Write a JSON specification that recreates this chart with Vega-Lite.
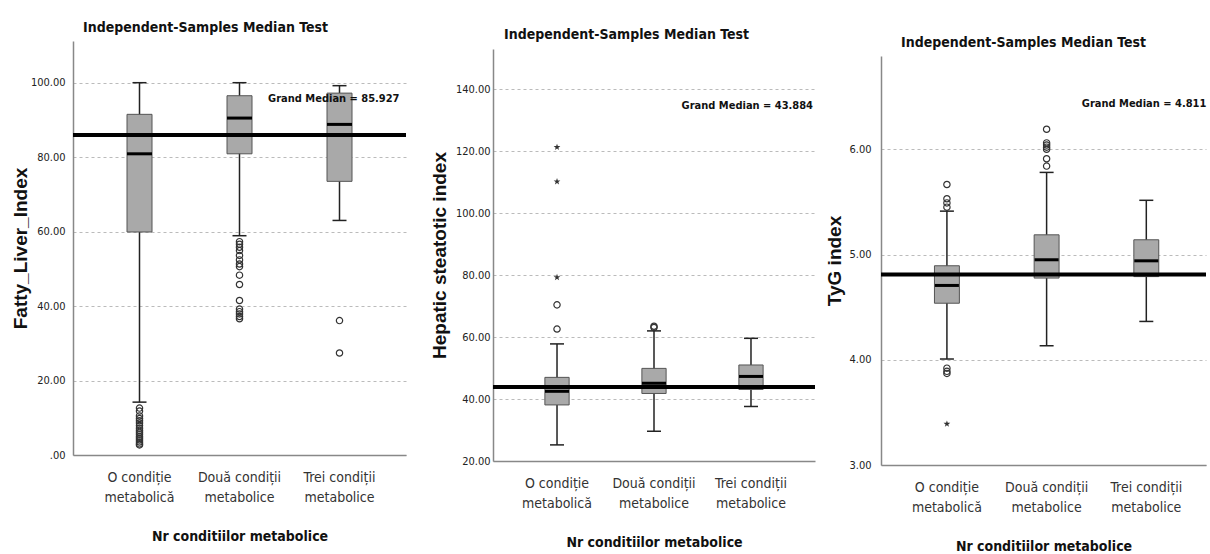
{
  "$schema": "https://vega.github.io/schema/vega-lite/v6.json",
  "padding": {"left": 11, "top": 18, "right": 0, "bottom": 0},
  "background": "#ffffff",
  "datasets": {
    "fli_box": [
      {"group": "O condiție metabolică", "lo": 14.2, "q1": 59.9, "med": 80.9, "q3": 91.5, "hi": 100},
      {"group": "Două condiții metabolice", "lo": 58.9, "q1": 80.9, "med": 90.5, "q3": 96.5, "hi": 100},
      {"group": "Trei condiții metabolice", "lo": 63, "q1": 73.5, "med": 88.8, "q3": 97.2, "hi": 99.2}
    ],
    "fli_out": [
      {"group": "O condiție metabolică", "value": 12.6, "kind": "outlier"},
      {"group": "O condiție metabolică", "value": 11.8, "kind": "outlier"},
      {"group": "O condiție metabolică", "value": 10.5, "kind": "outlier"},
      {"group": "O condiție metabolică", "value": 9.8, "kind": "outlier"},
      {"group": "O condiție metabolică", "value": 9.2, "kind": "outlier"},
      {"group": "O condiție metabolică", "value": 8.6, "kind": "outlier"},
      {"group": "O condiție metabolică", "value": 7.9, "kind": "outlier"},
      {"group": "O condiție metabolică", "value": 7.2, "kind": "outlier"},
      {"group": "O condiție metabolică", "value": 6.6, "kind": "outlier"},
      {"group": "O condiție metabolică", "value": 6.1, "kind": "outlier"},
      {"group": "O condiție metabolică", "value": 5.6, "kind": "outlier"},
      {"group": "O condiție metabolică", "value": 5.0, "kind": "outlier"},
      {"group": "O condiție metabolică", "value": 4.5, "kind": "outlier"},
      {"group": "O condiție metabolică", "value": 4.0, "kind": "outlier"},
      {"group": "O condiție metabolică", "value": 3.5, "kind": "outlier"},
      {"group": "O condiție metabolică", "value": 3.0, "kind": "outlier"},
      {"group": "O condiție metabolică", "value": 2.7, "kind": "outlier"},
      {"group": "Două condiții metabolice", "value": 57.3, "kind": "outlier"},
      {"group": "Două condiții metabolice", "value": 56.6, "kind": "outlier"},
      {"group": "Două condiții metabolice", "value": 55.8, "kind": "outlier"},
      {"group": "Două condiții metabolice", "value": 54.9, "kind": "outlier"},
      {"group": "Două condiții metabolice", "value": 53.6, "kind": "outlier"},
      {"group": "Două condiții metabolice", "value": 52.4, "kind": "outlier"},
      {"group": "Două condiții metabolice", "value": 51.3, "kind": "outlier"},
      {"group": "Două condiții metabolice", "value": 50.6, "kind": "outlier"},
      {"group": "Două condiții metabolice", "value": 48.3, "kind": "outlier"},
      {"group": "Două condiții metabolice", "value": 45.8, "kind": "outlier"},
      {"group": "Două condiții metabolice", "value": 41.5, "kind": "outlier"},
      {"group": "Două condiții metabolice", "value": 39.2, "kind": "outlier"},
      {"group": "Două condiții metabolice", "value": 38.5, "kind": "outlier"},
      {"group": "Două condiții metabolice", "value": 37.9, "kind": "outlier"},
      {"group": "Două condiții metabolice", "value": 37.2, "kind": "outlier"},
      {"group": "Două condiții metabolice", "value": 36.6, "kind": "outlier"},
      {"group": "Trei condiții metabolice", "value": 36.1, "kind": "outlier"},
      {"group": "Trei condiții metabolice", "value": 27.4, "kind": "outlier"}
    ],
    "fli_gm": [{"value": 85.927, "label": "Grand Median = 85.927"}],
    "hsi_box": [
      {"group": "O condiție metabolică", "lo": 25.2, "q1": 38.1, "med": 42.5, "q3": 47.0, "hi": 57.8},
      {"group": "Două condiții metabolice", "lo": 29.6, "q1": 41.8, "med": 45.1, "q3": 49.9, "hi": 62.0},
      {"group": "Trei condiții metabolice", "lo": 37.6, "q1": 43.1, "med": 47.3, "q3": 51.0, "hi": 59.6}
    ],
    "hsi_out": [
      {"group": "O condiție metabolică", "value": 62.6, "kind": "outlier"},
      {"group": "O condiție metabolică", "value": 70.4, "kind": "outlier"},
      {"group": "O condiție metabolică", "value": 79.3, "kind": "extreme"},
      {"group": "O condiție metabolică", "value": 110.2, "kind": "extreme"},
      {"group": "O condiție metabolică", "value": 121.3, "kind": "extreme"},
      {"group": "Două condiții metabolice", "value": 63.1, "kind": "outlier"},
      {"group": "Două condiții metabolice", "value": 63.5, "kind": "outlier"}
    ],
    "hsi_gm": [{"value": 43.884, "label": "Grand Median = 43.884"}],
    "tyg_box": [
      {"group": "O condiție metabolică", "lo": 4.007, "q1": 4.537, "med": 4.706, "q3": 4.893, "hi": 5.412},
      {"group": "Două condiții metabolice", "lo": 4.133, "q1": 4.776, "med": 4.95, "q3": 5.187, "hi": 5.78},
      {"group": "Trei condiții metabolice", "lo": 4.364, "q1": 4.79, "med": 4.94, "q3": 5.14, "hi": 5.515}
    ],
    "tyg_out": [
      {"group": "O condiție metabolică", "value": 5.665, "kind": "outlier"},
      {"group": "O condiție metabolică", "value": 5.53, "kind": "outlier"},
      {"group": "O condiție metabolică", "value": 5.49, "kind": "outlier"},
      {"group": "O condiție metabolică", "value": 5.45, "kind": "outlier"},
      {"group": "O condiție metabolică", "value": 3.92, "kind": "outlier"},
      {"group": "O condiție metabolică", "value": 3.89, "kind": "outlier"},
      {"group": "O condiție metabolică", "value": 3.87, "kind": "outlier"},
      {"group": "O condiție metabolică", "value": 3.39, "kind": "extreme"},
      {"group": "Două condiții metabolice", "value": 6.19, "kind": "outlier"},
      {"group": "Două condiții metabolice", "value": 6.06, "kind": "outlier"},
      {"group": "Două condiții metabolice", "value": 6.04, "kind": "outlier"},
      {"group": "Două condiții metabolice", "value": 6.02, "kind": "outlier"},
      {"group": "Două condiții metabolice", "value": 6.0, "kind": "outlier"},
      {"group": "Două condiții metabolice", "value": 5.91, "kind": "outlier"},
      {"group": "Două condiții metabolice", "value": 5.84, "kind": "outlier"}
    ],
    "tyg_gm": [{"value": 4.811, "label": "Grand Median = 4.811"}]
  },
  "hconcat": [
    {
      "hconcat": [
        {
          "vconcat": [
            {"width": 1, "height": 3, "data": {"values": []}, "mark": {"type": "text"}, "encoding": {}},
            {
              "width": 333,
              "height": 414,
              "title": {"text": "Independent-Samples Median Test", "anchor": "start", "frame": "group", "dx": 10, "offset": 6},
              "layer": [
                {
                  "data": {"name": "fli_box"},
                  "encoding": {
                    "x": {"field": "group", "type": "nominal", "title": "Nr conditiilor metabolice",
                      "scale": {"domain": ["O condiție metabolică", "Două condiții metabolice", "Trei condiții metabolice"], "paddingInner": 0, "paddingOuter": 0.165}}
                  },
                  "layer": [
                    {"mark": {"type": "rule", "color": "#222", "strokeWidth": 1.5},
                     "encoding": {"y": {"field": "lo", "type": "quantitative", "title": "Fatty_Liver_Index", "scale": {"domain": [0, 111.2], "nice": false, "zero": false},
                       "axis": {"values": [0, 20, 40, 60, 80, 100], "labelExpr": "datum.value == 0 ? '.00' : format(datum.value, '.2f')", "labelPadding": 8, "titlePadding": 0}},
                       "y2": {"field": "hi"}}},
                    {"mark": {"type": "tick", "color": "#222", "opacity": 1, "size": 14, "thickness": 1.5}, "encoding": {"y": {"field": "lo", "type": "quantitative", "title": "Fatty_Liver_Index"}}},
                    {"mark": {"type": "tick", "color": "#222", "opacity": 1, "size": 14, "thickness": 1.5}, "encoding": {"y": {"field": "hi", "type": "quantitative", "title": "Fatty_Liver_Index"}}},
                    {"mark": {"type": "bar", "width": {"band": 0.25}, "fill": "#a9a9a9", "stroke": "#555", "strokeWidth": 1}, "encoding": {"y": {"field": "q1", "type": "quantitative", "title": "Fatty_Liver_Index"}, "y2": {"field": "q3"}}},
                    {"mark": {"type": "tick", "color": "#000", "opacity": 1, "size": 25, "thickness": 3}, "encoding": {"y": {"field": "med", "type": "quantitative", "title": "Fatty_Liver_Index"}}}
                  ]
                },
                {"data": {"name": "fli_gm"}, "mark": {"type": "rule", "color": "#000", "strokeWidth": 4}, "encoding": {"y": {"field": "value", "type": "quantitative", "title": "Fatty_Liver_Index"}}},
                {
                  "data": {"name": "fli_out"},
                  "encoding": {"x": {"field": "group", "type": "nominal", "title": "Nr conditiilor metabolice"}, "y": {"field": "value", "type": "quantitative", "title": "Fatty_Liver_Index"}},
                  "layer": [
                    {"transform": [{"filter": "datum.kind == 'outlier'"}], "mark": {"type": "point", "shape": "circle", "filled": false, "opacity": 1, "size": 40, "color": "#333", "strokeWidth": 1.2}},
                    {"transform": [{"filter": "datum.kind == 'extreme'"}], "mark": {"type": "point", "shape": "M0,-1L0.235,-0.324L0.951,-0.309L0.38,0.124L0.588,0.809L0,0.4L-0.588,0.809L-0.38,0.124L-0.951,-0.309L-0.235,-0.324Z", "filled": true, "opacity": 1, "size": 50, "color": "#333"}}
                  ]
                },
                {"data": {"name": "fli_gm"}, "mark": {"type": "text", "align": "right", "dx": 60, "font": "DejaVu Sans Condensed, sans-serif", "fontSize": 11, "fontWeight": "bold", "color": "#111"},
                 "encoding": {"x": {"datum": "Trei condiții metabolice", "type": "nominal", "title": "Nr conditiilor metabolice"}, "y": {"datum": 95.5, "type": "quantitative", "title": "Fatty_Liver_Index"}, "text": {"field": "label"}}}
              ]
            }
          ],
          "spacing": 0
        },
        {
          "vconcat": [
            {"width": 1, "height": 10, "data": {"values": []}, "mark": {"type": "text"}, "encoding": {}},
            {
              "width": 322,
              "height": 412,
              "title": {"text": "Independent-Samples Median Test", "anchor": "start", "frame": "group", "dx": 11, "offset": 7},
              "layer": [
                {
                  "data": {"name": "hsi_box"},
                  "encoding": {
                    "x": {"field": "group", "type": "nominal", "title": "Nr conditiilor metabolice",
                      "scale": {"domain": ["O condiție metabolică", "Două condiții metabolice", "Trei condiții metabolice"], "paddingInner": 0, "paddingOuter": 0.16}}
                  },
                  "layer": [
                    {"mark": {"type": "rule", "color": "#222", "strokeWidth": 1.5},
                     "encoding": {"y": {"field": "lo", "type": "quantitative", "title": "Hepatic steatotic index", "scale": {"domain": [20, 153], "nice": false, "zero": false},
                       "axis": {"values": [20, 40, 60, 80, 100, 120, 140], "format": ".2f", "labelPadding": 3, "titlePadding": 6}},
                       "y2": {"field": "hi"}}},
                    {"mark": {"type": "tick", "color": "#222", "opacity": 1, "size": 14, "thickness": 1.5}, "encoding": {"y": {"field": "lo", "type": "quantitative", "title": "Hepatic steatotic index"}}},
                    {"mark": {"type": "tick", "color": "#222", "opacity": 1, "size": 14, "thickness": 1.5}, "encoding": {"y": {"field": "hi", "type": "quantitative", "title": "Hepatic steatotic index"}}},
                    {"mark": {"type": "bar", "width": {"band": 0.25}, "fill": "#a9a9a9", "stroke": "#555", "strokeWidth": 1}, "encoding": {"y": {"field": "q1", "type": "quantitative", "title": "Hepatic steatotic index"}, "y2": {"field": "q3"}}},
                    {"mark": {"type": "tick", "color": "#000", "opacity": 1, "size": 24, "thickness": 3}, "encoding": {"y": {"field": "med", "type": "quantitative", "title": "Hepatic steatotic index"}}}
                  ]
                },
                {"data": {"name": "hsi_gm"}, "mark": {"type": "rule", "color": "#000", "strokeWidth": 4}, "encoding": {"y": {"field": "value", "type": "quantitative", "title": "Hepatic steatotic index"}}},
                {
                  "data": {"name": "hsi_out"},
                  "encoding": {"x": {"field": "group", "type": "nominal", "title": "Nr conditiilor metabolice"}, "y": {"field": "value", "type": "quantitative", "title": "Hepatic steatotic index"}},
                  "layer": [
                    {"transform": [{"filter": "datum.kind == 'outlier'"}], "mark": {"type": "point", "shape": "circle", "filled": false, "opacity": 1, "size": 40, "color": "#333", "strokeWidth": 1.2}},
                    {"transform": [{"filter": "datum.kind == 'extreme'"}], "mark": {"type": "point", "shape": "M0,-1L0.235,-0.324L0.951,-0.309L0.38,0.124L0.588,0.809L0,0.4L-0.588,0.809L-0.38,0.124L-0.951,-0.309L-0.235,-0.324Z", "filled": true, "opacity": 1, "size": 50, "color": "#333"}}
                  ]
                },
                {"data": {"name": "hsi_gm"}, "mark": {"type": "text", "align": "right", "dx": 62, "font": "DejaVu Sans Condensed, sans-serif", "fontSize": 11, "fontWeight": "bold", "color": "#111"},
                 "encoding": {"x": {"datum": "Trei condiții metabolice", "type": "nominal", "title": "Nr conditiilor metabolice"}, "y": {"datum": 134.5, "type": "quantitative", "title": "Hepatic steatotic index"}, "text": {"field": "label"}}}
              ]
            }
          ],
          "spacing": 0
        }
      ],
      "spacing": 22
    },
    {
      "vconcat": [
        {"width": 1, "height": 18, "data": {"values": []}, "mark": {"type": "text"}, "encoding": {}},
        {
          "width": 325,
          "height": 409,
          "title": {"text": "Independent-Samples Median Test", "anchor": "start", "frame": "group", "dx": 20, "offset": 6},
          "layer": [
            {
              "data": {"name": "tyg_box"},
              "encoding": {
                "x": {"field": "group", "type": "nominal", "title": "Nr conditiilor metabolice",
                  "scale": {"domain": ["O condiție metabolică", "Două condiții metabolice", "Trei condiții metabolice"], "paddingInner": 0, "paddingOuter": 0.13, "align": 0.62}}
              },
              "layer": [
                {"mark": {"type": "rule", "color": "#222", "strokeWidth": 1.5},
                 "encoding": {"y": {"field": "lo", "type": "quantitative", "title": "TyG index", "scale": {"domain": [3, 6.886], "nice": false, "zero": false},
                   "axis": {"values": [3, 4, 5, 6], "format": ".2f", "labelPadding": 10, "titlePadding": 4}},
                   "y2": {"field": "hi"}}},
                {"mark": {"type": "tick", "color": "#222", "opacity": 1, "size": 14, "thickness": 1.5}, "encoding": {"y": {"field": "lo", "type": "quantitative", "title": "TyG index"}}},
                {"mark": {"type": "tick", "color": "#222", "opacity": 1, "size": 14, "thickness": 1.5}, "encoding": {"y": {"field": "hi", "type": "quantitative", "title": "TyG index"}}},
                {"mark": {"type": "bar", "width": {"band": 0.25}, "fill": "#a9a9a9", "stroke": "#555", "strokeWidth": 1}, "encoding": {"y": {"field": "q1", "type": "quantitative", "title": "TyG index"}, "y2": {"field": "q3"}}},
                {"mark": {"type": "tick", "color": "#000", "opacity": 1, "size": 24, "thickness": 3}, "encoding": {"y": {"field": "med", "type": "quantitative", "title": "TyG index"}}}
              ]
            },
            {"data": {"name": "tyg_gm"}, "mark": {"type": "rule", "color": "#000", "strokeWidth": 4}, "encoding": {"y": {"field": "value", "type": "quantitative", "title": "TyG index"}}},
            {
              "data": {"name": "tyg_out"},
              "encoding": {"x": {"field": "group", "type": "nominal", "title": "Nr conditiilor metabolice"}, "y": {"field": "value", "type": "quantitative", "title": "TyG index"}},
              "layer": [
                {"transform": [{"filter": "datum.kind == 'outlier'"}], "mark": {"type": "point", "shape": "circle", "filled": false, "opacity": 1, "size": 40, "color": "#333", "strokeWidth": 1.2}},
                {"transform": [{"filter": "datum.kind == 'extreme'"}], "mark": {"type": "point", "shape": "M0,-1L0.235,-0.324L0.951,-0.309L0.38,0.124L0.588,0.809L0,0.4L-0.588,0.809L-0.38,0.124L-0.951,-0.309L-0.235,-0.324Z", "filled": true, "opacity": 1, "size": 50, "color": "#333"}}
              ]
            },
            {"data": {"name": "tyg_gm"}, "mark": {"type": "text", "align": "right", "dx": 60, "font": "DejaVu Sans Condensed, sans-serif", "fontSize": 11, "fontWeight": "bold", "color": "#111"},
             "encoding": {"x": {"datum": "Trei condiții metabolice", "type": "nominal", "title": "Nr conditiilor metabolice"}, "y": {"datum": 6.427, "type": "quantitative", "title": "TyG index"}, "text": {"field": "label"}}}
          ]
        }
      ],
      "spacing": 0
    }
  ],
  "spacing": 8,
  "config": {
    "view": {"stroke": null},
    "font": "DejaVu Sans Condensed, sans-serif",
    "title": {"font": "DejaVu Sans Condensed, sans-serif", "fontSize": 14, "fontWeight": "bold", "color": "#111"},
    "axisX": {
      "domainColor": "#888", "domainWidth": 1.5, "ticks": false, "grid": false, "labelAngle": 0, "labelOverlap": false,
      "labelExpr": "[slice(datum.label, 0, lastindexof(datum.label, ' ')), slice(datum.label, lastindexof(datum.label, ' ') + 1)]",
      "labelFont": "DejaVu Sans Condensed, sans-serif", "labelFontSize": 14, "labelColor": "#333", "labelLineHeight": 20, "labelPadding": 15, "labelBaseline": "top",
      "titleFont": "DejaVu Sans Condensed, sans-serif", "titleFontSize": 14, "titleFontWeight": "bold", "titleColor": "#111", "titlePadding": 25
    },
    "axisY": {
      "domainColor": "#888", "domainWidth": 1.5, "ticks": false, "grid": true, "gridColor": "#bbb", "gridDash": [3, 3], "gridWidth": 1.2,
      "labelFont": "DejaVu Sans Condensed, sans-serif", "labelFontSize": 11, "labelColor": "#222",
      "titleFont": "Liberation Sans, Arial, sans-serif", "titleFontSize": 19, "titleFontWeight": "bold", "titleColor": "#111"
    }
  }
}
